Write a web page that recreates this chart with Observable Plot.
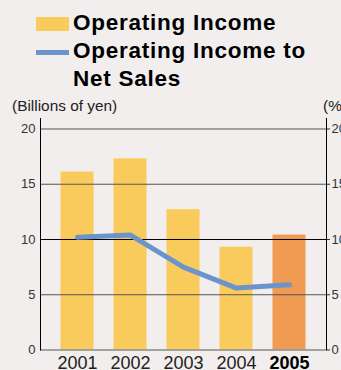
<!DOCTYPE html>
<html>
<head>
<meta charset="utf-8">
<script src="https://cdn.jsdelivr.net/npm/d3@7"></script>
<script src="https://cdn.jsdelivr.net/npm/@observablehq/plot@0.6"></script>
<style>
  html, body { margin: 0; padding: 0; background: #f1eeed; }
  #wrap { position: relative; width: 341px; height: 370px; overflow: hidden; font-family: "Liberation Sans", Arial, sans-serif; }
  #chart { position: absolute; left: 0; top: 0; }
  .lg { position: absolute; font-weight: bold; font-size: 22.5px; line-height: 28px; letter-spacing: 0.75px; color: #000; white-space: nowrap; }
  .sw { position: absolute; }
  .unit { position: absolute; font-size: 15.4px; line-height: 15.4px; color: #222; white-space: nowrap; }
</style>
</head>
<body>
<div id="wrap">
  <div id="chart"></div>
  <div class="sw" style="left:36px;top:17px;width:33px;height:14px;background:#f9cb5c"></div>
  <div class="sw" style="left:36px;top:50px;width:33px;height:5px;background:#6b93cc"></div>
  <div class="lg" style="left:73px;top:9.2px">Operating Income<br>Operating Income to<br>Net Sales</div>
  <div class="unit" style="left:12px;top:98px">(Billions of yen)</div>
  <div class="unit" style="left:323px;top:98px">(%)</div>
</div>
<script>
const years = ["2001", "2002", "2003", "2004", "2005"];
const operatingIncome = [16.1, 17.3, 12.7, 9.3, 10.4];      // billions of yen
const incomeToNetSales = [10.2, 10.4, 7.5, 5.6, 5.9];        // percent
const highlightYear = "2005";
const yTicks = [0, 5, 10, 15, 20];
const gridTicks = [5, 15, 20];
const strongGrid = [10];

const barColor = "#f9cb5c";
const highlightColor = "#f19a52";
const lineColor = "#6b93cc";

const rows = years.map((y, i) => ({
  year: y,
  income: operatingIncome[i],
  ratio: incomeToNetSales[i],
  hi: y === highlightYear
}));

const chart = Plot.plot({
  width: 341,
  height: 370,
  marginTop: 118,
  marginBottom: 20.5,
  marginLeft: 40,
  marginRight: 15,
  style: { fontFamily: "'Liberation Sans', Arial, sans-serif", background: "transparent", overflow: "visible" },
  x: { domain: years, paddingInner: 0.377, paddingOuter: 0.387, round: false, axis: null },
  y: { domain: [0, 20.95], axis: null },
  marks: [
    Plot.barY(rows, { x: "year", y: "income", fill: d => d.hi ? highlightColor : barColor }),
    Plot.ruleY(gridTicks, { stroke: "#555", strokeWidth: 1 }),
    Plot.ruleY(strongGrid, { stroke: "#000", strokeWidth: 1 }),
    Plot.ruleY([0], { stroke: "#888", strokeWidth: 1.5 }),
    Plot.frame({ anchor: "left", stroke: "#000" }),
    Plot.frame({ anchor: "right", stroke: "#000" }),
    Plot.line(rows, { x: "year", y: "ratio", stroke: lineColor, strokeWidth: 5 }),
    Plot.axisY({ anchor: "left", ticks: yTicks, tickSize: 0, tickPadding: 5, fontSize: 13, color: "#333", label: null }),
    Plot.axisY({ anchor: "right", ticks: yTicks, tickSize: 3, tickPadding: 2, fontSize: 13, color: "#333", label: null }),
    Plot.text(rows.filter(d => !d.hi), { x: "year", text: "year", frameAnchor: "bottom", dy: 18.5, fontSize: 18, fill: "#222", lineAnchor: "bottom" }),
    Plot.text(rows.filter(d => d.hi), { x: "year", text: "year", frameAnchor: "bottom", dy: 18.5, fontSize: 18, fontWeight: "bold", fill: "#000", lineAnchor: "bottom" })
  ]
});
document.getElementById("chart").appendChild(chart);
</script>
</body>
</html>
